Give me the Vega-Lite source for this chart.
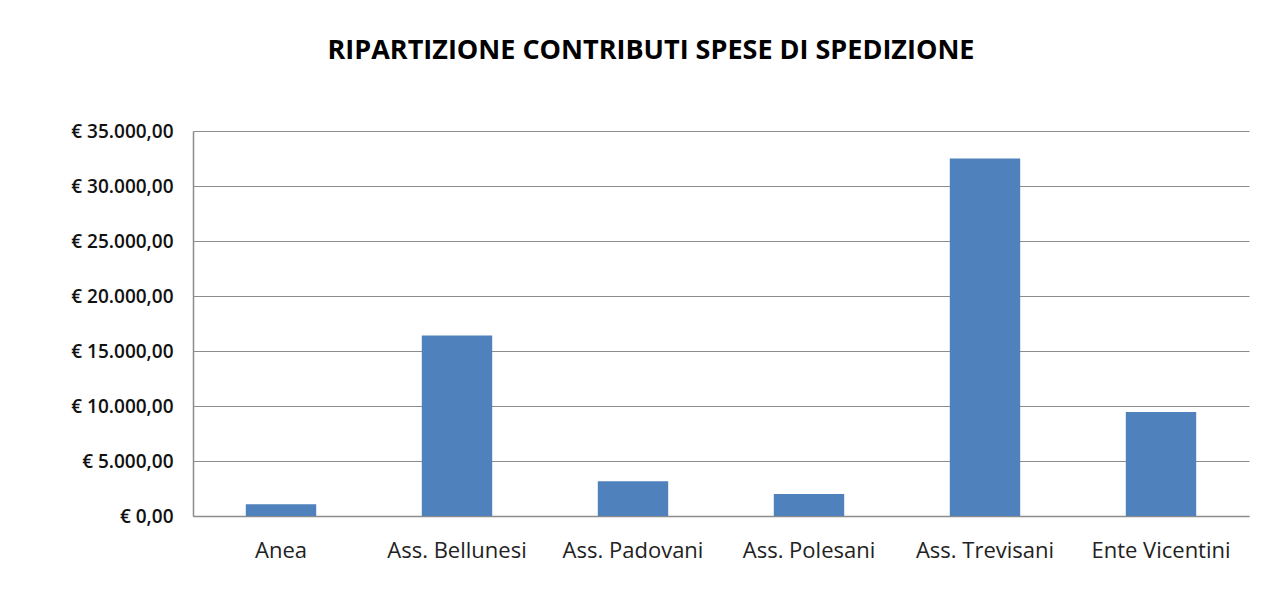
{
  "$schema": "https://vega.github.io/schema/vega-lite/v6.json",
  "width": 1056,
  "height": 385,
  "autosize": {"type": "none"},
  "padding": {"left": 193, "top": 131, "right": 30, "bottom": 89},
  "background": "white",
  "title": {
    "text": "RIPARTIZIONE CONTRIBUTI SPESE DI SPEDIZIONE",
    "anchor": "middle",
    "frame": "group",
    "dx": -70,
    "offset": 57,
    "font": "Open Sans",
    "fontSize": 27,
    "fontWeight": "bold",
    "color": "#000000"
  },
  "data": {
    "values": [
      {"ente": "Anea", "importo": 1060},
      {"ente": "Ass. Bellunesi", "importo": 16410},
      {"ente": "Ass. Padovani", "importo": 3150},
      {"ente": "Ass. Polesani", "importo": 2000},
      {"ente": "Ass. Trevisani", "importo": 32490},
      {"ente": "Ente Vicentini", "importo": 9450}
    ]
  },
  "mark": {"type": "bar", "color": "#4F81BD"},
  "encoding": {
    "x": {
      "field": "ente",
      "type": "nominal",
      "sort": null,
      "scale": {"paddingInner": 0.6, "paddingOuter": 0.3},
      "axis": {
        "title": null,
        "labelAngle": 0,
        "ticks": false,
        "labelPadding": 24,
        "labelFont": "Open Sans",
        "labelFontSize": 22,
        "labelColor": "#222222",
        "domainColor": "#8c8c8c",
        "domainWidth": 1.5
      }
    },
    "y": {
      "field": "importo",
      "type": "quantitative",
      "scale": {"domain": [0, 35000], "nice": false},
      "axis": {
        "title": null,
        "values": [0, 5000, 10000, 15000, 20000, 25000, 30000, 35000],
        "format": "$,.2f",
        "ticks": false,
        "labelPadding": 20,
        "labelFont": "Open Sans",
        "labelFontSize": 19,
        "labelFontWeight": 600,
        "labelColor": "#111111",
        "grid": true,
        "gridColor": "#8c8c8c",
        "gridWidth": 1.2,
        "domainColor": "#8c8c8c",
        "domainWidth": 1.5
      }
    }
  },
  "config": {
    "view": {"stroke": null},
    "locale": {
      "number": {
        "decimal": ",",
        "thousands": ".",
        "grouping": [3],
        "currency": ["€ ", ""]
      }
    }
  }
}
